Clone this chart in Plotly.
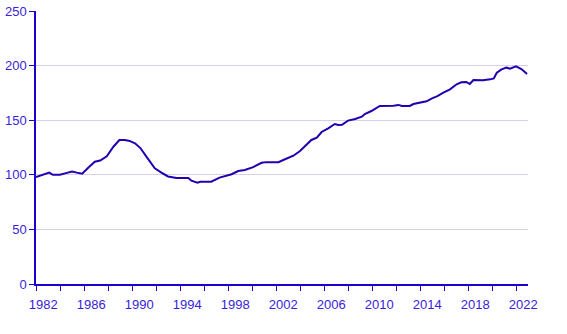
import plotly.graph_objects as go

# Decimal year positions and index values
t = [1982.0, 1982.5, 1983.1, 1983.4, 1984.0, 1984.5, 1985.0, 1985.4, 1985.85, 1986.35,
     1986.9, 1987.35, 1987.9, 1988.45, 1988.95, 1989.4, 1989.8, 1990.25, 1990.7, 1991.2,
     1991.9, 1992.45, 1993.0, 1993.7, 1994.7, 1994.95, 1995.45, 1995.7, 1996.6, 1997.3,
     1997.9, 1998.3, 1998.85, 1999.4, 2000.1, 2000.8, 2001.2, 2002.2, 2002.75, 2003.45,
     2004.0, 2004.55, 2004.95, 2005.4, 2005.8, 2006.35, 2006.9, 2007.2, 2007.5, 2008.0,
     2008.6, 2009.15, 2009.4, 2009.95, 2010.65, 2011.8, 2012.2, 2012.5, 2013.15, 2013.45,
     2014.0, 2014.55, 2015.0, 2015.45, 2015.95, 2016.5, 2017.05, 2017.45, 2017.85, 2018.15,
     2018.45, 2019.25, 2019.85, 2020.15, 2020.4, 2020.8, 2021.2, 2021.5, 2022.0, 2022.45,
     2022.92]
values = [98, 99.5, 102, 100, 100, 101.5, 103, 102, 101, 106.5,
          112, 113, 117, 125.7, 131.9, 131.9, 131, 128.8, 124.5, 116.6,
          106, 102, 98.5, 97, 97, 94.6, 92.8, 93.7, 93.7, 97.4,
          99.5, 100.5, 103.5, 104.4, 107, 111, 111.6, 111.6, 114.2, 117.5,
          121.8, 127.9, 131.9, 134, 139.2, 142.6, 146.5, 145.6, 145.8, 149.6,
          151.1, 153.2, 155.7, 158.4, 163, 163.3, 164, 163, 163, 164.8,
          166.4, 167.3, 170, 172, 175.2, 178.3, 182.9, 184.7, 185, 183.2,
          186.8, 186.5, 187.4, 188.3, 193.5, 196.6, 198.1, 197.2, 199.4, 196.9,
          192.3]

label_years = list(range(1982, 2023, 4))
tick_years = list(range(1982, 2023, 2))
y_ticks = [0, 50, 100, 150, 200, 250]

LINE = "#2200b0"
AXIS = "#1a00d0"
TEXT = "#3a1ed8"
GRID = "#d4d0ec"

fig = go.Figure()
fig.add_trace(go.Scatter(x=t, y=values, mode="lines",
                         line=dict(color=LINE, width=2), showlegend=False))

fig.update_layout(
    width=567, height=334,
    margin=dict(l=36, r=39, t=11, b=50),
    plot_bgcolor="white", paper_bgcolor="white",
    font=dict(family="Liberation Sans, Arial, sans-serif", size=13, color=TEXT),
    xaxis=dict(
        range=[1982, 2023],
        automargin=False,
        tickvals=[y + 0.6 for y in label_years],
        ticktext=[str(y) for y in label_years],
        ticks="outside", ticklen=8, tickcolor="rgba(0,0,0,0)",
        showgrid=False, zeroline=False,
        showline=True, linecolor=AXIS, linewidth=1.5,
        minor=dict(tickvals=tick_years, ticks="outside", ticklen=5,
                   tickcolor=AXIS, tickwidth=1, showgrid=False),
        tickfont=dict(color=TEXT, size=13),
    ),
    yaxis=dict(
        range=[0, 250],
        automargin=False,
        tickvals=y_ticks,
        ticks="outside", ticklen=5, tickcolor=AXIS, tickwidth=1,
        showgrid=True, gridcolor=GRID, gridwidth=1,
        zeroline=False,
        showline=True, linecolor=AXIS, linewidth=1.5,
        tickfont=dict(color=TEXT, size=13),
    ),
)

fig.write_html("out.html")
